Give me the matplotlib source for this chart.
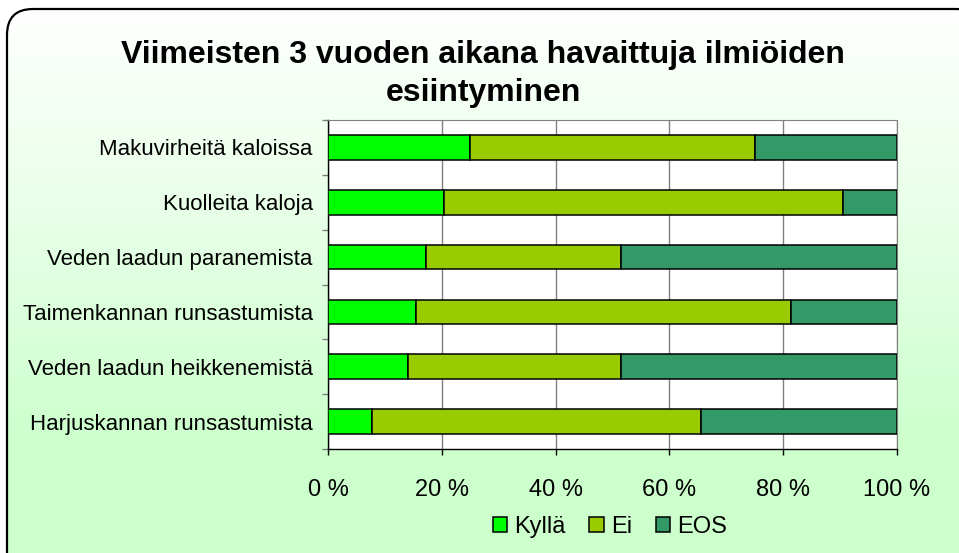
import numpy as np
import matplotlib
matplotlib.use("Agg")
import matplotlib.pyplot as plt
from matplotlib import font_manager
from matplotlib.patches import FancyBboxPatch, Patch

categories = ["Makuvirheitä kaloissa", "Kuolleita kaloja", "Veden laadun paranemista",
              "Taimenkannan runsastumista", "Veden laadun heikkenemistä",
              "Harjuskannan runsastumista"]
kylla = [25.0, 20.4, 17.2, 15.4, 14.1, 7.7]
ei = [50.0, 70.1, 34.3, 65.9, 37.4, 57.8]
eos = [25.0, 9.5, 48.5, 18.7, 48.5, 34.5]
series_names = ["Kyllä", "Ei", "EOS"]
series_colors = ["#00ff00", "#99cc00", "#339966"]
x_ticks = [0, 20, 40, 60, 80, 100]
x_labels = ["0 %", "20 %", "40 %", "60 %", "80 %", "100 %"]
title = "Viimeisten 3 vuoden aikana havaittuja ilmiöiden\nesiintyminen"

names = {f.name for f in font_manager.fontManager.ttflist}
base_font = "Liberation Sans" if "Liberation Sans" in names else "DejaVu Sans"
plt.rcParams["font.family"] = [base_font, "DejaVu Sans"]

W, H = 959, 553
fig = plt.figure(figsize=(W / 100, H / 100), dpi=100)
fig.patch.set_facecolor("white")

# background box with gradient
bg = fig.add_axes([0, 0, 1, 1])
bg.set_xlim(0, W)
bg.set_ylim(H, 0)
bg.axis("off")
yy = np.linspace(0, H, 300)
t = np.clip((yy - 10) / 440.0, 0, 1)[:, None]
top = np.array([1.0, 1.0, 1.0])
bot = np.array([0xcc, 0xff, 0xcc]) / 255.0
grad = top[None, None, :] * (1 - t[..., None]) + bot[None, None, :] * t[..., None]
grad = np.repeat(grad, 2, axis=1)
box = FancyBboxPatch((7, 9), 975, 575, boxstyle="round,pad=0,rounding_size=26",
                     facecolor="none", edgecolor="black", linewidth=1.6, zorder=3)
bg.add_patch(box)
im = bg.imshow(grad, extent=[0, W, H, 0], aspect="auto", zorder=1)
im.set_clip_path(box)

fig.text(0.504, 1 - 74 / H, title, ha="center", va="center", fontsize=23,
         fontweight="bold", linespacing=1.35)

ax = fig.add_axes([328 / W, 1 - 449 / H, (897 - 328) / W, (449 - 120) / H])
ax.set_facecolor("white")
y = np.arange(len(categories))
left = np.zeros(len(categories))
for vals, name, col in zip([kylla, ei, eos], series_names, series_colors):
    ax.barh(y, vals, left=left, height=0.45, color=col, edgecolor="black",
            linewidth=1.1, label=name, zorder=3)
    left = left + np.array(vals)

ax.set_xlim(0, 100)
ax.set_ylim(len(categories) - 0.5, -0.5)
ax.set_xticks(x_ticks)
ax.set_xticklabels(x_labels, fontsize=17)
ax.set_yticks(y)
ax.set_yticklabels(categories, fontsize=16)
ax.set_yticks(np.arange(-0.5, len(categories)), minor=True)
ax.tick_params(axis="y", which="major", length=0, pad=11)
ax.tick_params(axis="y", which="minor", length=4.5, color="#808080", width=1)
ax.tick_params(axis="x", which="major", length=4.5, color="black", width=1, pad=17)
ax.grid(axis="x", color="#808080", linewidth=1, zorder=0)
for s in ["top", "right"]:
    ax.spines[s].set_color("#808080")
for s in ["left", "bottom"]:
    ax.spines[s].set_color("black")
    ax.spines[s].set_linewidth(1)

handles = [Patch(facecolor=c, edgecolor="black", linewidth=1.1) for c in series_colors]
fig.legend(handles, series_names, loc="center", bbox_to_anchor=(610 / W, 1 - 527 / H),
           ncol=3, frameon=False, fontsize=17, handlelength=0.62, handleheight=0.62,
           handletextpad=0.3, columnspacing=1.0, borderaxespad=0)

fig.savefig("out.png", dpi=100, facecolor=fig.get_facecolor())
plt.close(fig)
